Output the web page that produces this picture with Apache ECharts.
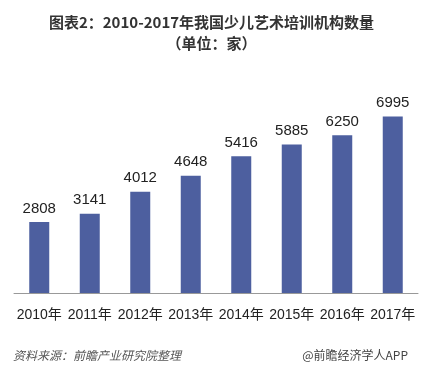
<!DOCTYPE html>
<html><head><meta charset="utf-8">
<script src="https://cdn.jsdelivr.net/npm/echarts@6/dist/echarts.min.js"></script>
<style>html,body{margin:0;padding:0;background:#fff}#c{width:423px;height:373px}</style>
</head><body><div id="c"></div>
<script>
const categories = ['2010年','2011年','2012年','2013年','2014年','2015年','2016年','2017年'];
const values = [2808, 3141, 4012, 4648, 5416, 5885, 6250, 6995];
const titleText = '图表2：2010-2017年我国少儿艺术培训机构数量';
const subtitleText = '（单位：家）';
const sourceText = '资料来源：前瞻产业研究院整理';
const brandText = '@前瞻经济学人APP';

const font = '"Microsoft YaHei","Noto Sans CJK SC",sans-serif';
const chart = echarts.init(document.getElementById('c'));
chart.setOption({
  animation: false,
  title: [
    {text: titleText, left: 'center', top: 10, textStyle: {fontSize: 15, fontWeight: 'bold', color: '#333', fontFamily: font}},
    {text: subtitleText, left: 'center', top: 31, textStyle: {fontSize: 15, fontWeight: 'bold', color: '#333', fontFamily: font}},
    {text: sourceText, left: 8, top: 344, textStyle: {fontSize: 12, fontWeight: 'normal', fontStyle: 'italic', color: '#555', fontFamily: font}},
    {text: brandText, right: 10, top: 344, textStyle: {fontSize: 12, fontWeight: 'normal', color: '#444', fontFamily: font}}
  ],
  grid: {left: 14, right: 5, top: 91, bottom: 80},
  xAxis: {
    type: 'category', data: categories,
    axisLine: {lineStyle: {color: '#999'}},
    axisTick: {show: false},
    axisLabel: {fontSize: 14, color: '#222', margin: 15, interval: 0, fontFamily: 'Arial, "Liberation Sans", "Noto Sans CJK SC", sans-serif'}
  },
  yAxis: {type: 'value', min: 0, max: 8000, show: false, splitLine: {show: false}},
  series: [{
    type: 'bar', data: values, barWidth: 20,
    itemStyle: {color: '#4d5f9f'},
    label: {show: true, position: 'top', distance: 6, fontSize: 15, color: '#222', fontFamily: 'Arial, "Liberation Sans", sans-serif'}
  }]
});
</script></body></html>
